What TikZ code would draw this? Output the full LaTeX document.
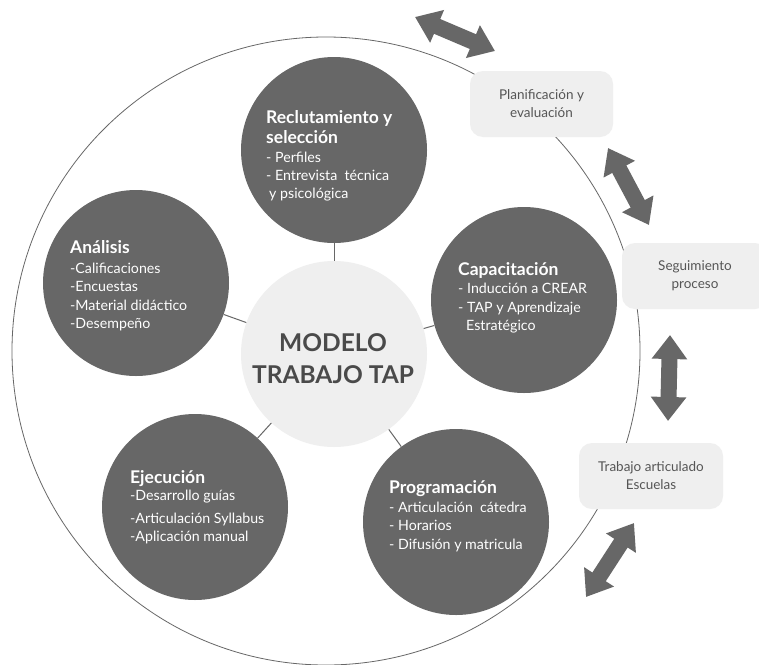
\documentclass[tikz,border=0pt]{standalone}
\usepackage{fontspec}
\setmainfont{Lato}
\usetikzlibrary{arrows.meta}
\definecolor{dk}{HTML}{676767}
\definecolor{lt}{HTML}{EFEFEF}
\definecolor{tx}{HTML}{555555}
\definecolor{hx}{HTML}{4A4A4A}
\begin{document}
\begin{tikzpicture}[x=1pt,y=-1pt,
 blob/.style={circle, fill=dk, minimum size=186pt, inner sep=0pt},
 hub/.style={circle, fill=lt, minimum size=186pt, inner sep=0pt},
 link/.style={draw=dk, line width=1pt},
 ttl/.style={anchor=base west, text=white, inner sep=0pt, font=\fontsize{17.5}{20}\selectfont\bfseries},
 itm/.style={anchor=base west, text=white, inner sep=0pt, font=\fontsize{14.2}{16}\selectfont},
 boxed/.style={fill=lt, rounded corners=13pt, text=tx, align=center, inner sep=0pt, font=\fontsize{13.5}{18}\selectfont},
 hubtxt/.style={text=hx, anchor=base, inner sep=0pt, font=\fontsize{24.5}{28}\selectfont\bfseries},
 dbl/.style={draw=dk, line width=16pt, {Triangle[length=24pt,width=34pt]}-{Triangle[length=24pt,width=34pt]}}]
\clip (0,0) rectangle (759,664);
\fill[white] (0,0) rectangle (759,664);
% outer ring
\node[circle, draw=dk, line width=0.8pt, minimum size=628pt, inner sep=0pt] (ring) at (326,351) {};
% side boxes
\node[boxed, minimum width=143pt, minimum height=66pt] (plan) at (541.5,104) {Planificación y\\evaluación};
\node[boxed, minimum width=146pt, minimum height=66pt] (seg) at (695,276) {Seguimiento\\proceso};
\node[boxed, minimum width=144pt, minimum height=66pt] (trab) at (651,476) {Trabajo articulado\\Escuelas};
% double arrows
\coordinate (a1s) at (415,17);  \coordinate (a1e) at (495,51);
\coordinate (a2s) at (608,148); \coordinate (a2e) at (649,225);
\coordinate (a3s) at (670,335); \coordinate (a3e) at (668,421);
\coordinate (a4s) at (634,523); \coordinate (a4e) at (586,597);
\draw[dbl] (a1s) -- (a1e);
\draw[dbl] (a2s) -- (a2e);
\draw[dbl] (a3s) -- (a3e);
\draw[dbl] (a4s) -- (a4e);
% circles
\node[blob] (rec) at (334,150) {};
\node[blob] (ana) at (136,283) {};
\node[hub]  (mod) at (334,354) {};
\node[blob] (cap) at (524,300) {};
\node[blob] (pro) at (456,522) {};
\node[blob] (eje) at (195,507) {};
\draw[link] (mod) -- (rec);
\draw[link] (mod) -- (ana);
\draw[link] (mod) -- (cap);
\draw[link] (mod) -- (pro);
\draw[link] (mod) -- (eje);
% hub text
\node[hubtxt] (mod1) at (333,351) {MODELO};
\node[hubtxt] (mod2) at (333,383) {TRABAJO TAP};
% Reclutamiento
\node[ttl] (rec1) at (266,123) {Reclutamiento y};
\node[ttl] (rec2) at (266,143) {selección};
\node[itm] (rec3) at (266,162) {- Perfiles};
\node[itm] (rec4) at (266,180) {- Entrevista\ \ técnica};
\node[itm] (rec5) at (269,198) {y psicológica};
% Analisis
\node[ttl] (ana1) at (70,253) {Análisis};
\node[itm] (ana2) at (70,273) {-Calificaciones};
\node[itm] (ana3) at (70,291) {-Encuestas};
\node[itm] (ana4) at (70,310) {-Material didáctico};
\node[itm] (ana5) at (70,328) {-Desempeño};
% Capacitacion
\node[ttl] (cap1) at (458,275) {Capacitación};
\node[itm] (cap2) at (458,293) {- Inducción a CREAR};
\node[itm] (cap3) at (458,312) {- TAP y Aprendizaje};
\node[itm] (cap4) at (466,330) {Estratégico};
% Ejecucion
\node[ttl] (eje1) at (130,483) {Ejecución};
\node[itm] (eje2) at (130,500) {-Desarrollo guías};
\node[itm] (eje3) at (130,523) {-Articulación Syllabus};
\node[itm] (eje4) at (130,541) {-Aplicación manual};
% Programacion
\node[ttl] (pro1) at (389,493) {Programación};
\node[itm] (pro2) at (389,512) {- Articulación\ \ cátedra};
\node[itm] (pro3) at (389,530) {- Horarios};
\node[itm] (pro4) at (389,549) {- Difusión y matricula};
\end{tikzpicture}
\end{document}
